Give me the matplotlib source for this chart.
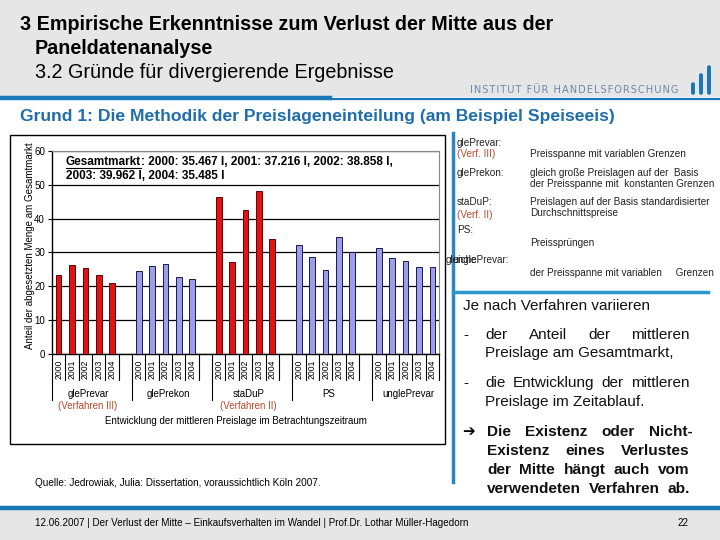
"""Slide: Gruende fuer divergierende Ergebnisse - Preislagen nach Verfahren."""

import matplotlib
matplotlib.use("Agg")
import matplotlib.pyplot as plt
from matplotlib.patches import Rectangle, FancyBboxPatch
from matplotlib.lines import Line2D

# ---- data -------------------------------------------------------------
years = ["2000", "2001", "2002", "2003", "2004"]
methods = ["glePrevar", "glePrekon", "staDuP", "PS", "unglePrevar"]
method_notes = ["(Verfahren III)", "", "(Verfahren II)", "", ""]
glePrevar = [23.4, 26.2, 25.3, 23.4, 20.9]
glePrekon = [24.5, 25.9, 26.5, 22.7, 22.1]
staDuP = [46.3, 27.1, 42.6, 48.2, 34.1]
PS = [32.1, 28.8, 24.7, 34.7, 30.0]
unglePrevar = [31.2, 28.5, 27.4, 25.7, 25.7]
series = [glePrevar, glePrekon, staDuP, PS, unglePrevar]
y_ticks = [0, 10, 20, 30, 40, 50, 60]

gesamtmarkt = ["2000: 35.467 l, 2001: 37.216 l, 2002: 38.858 l,",
               "2003: 39.962 l, 2004: 35.485 l"]

RED = "#E01414"
BLUE = "#9C9CF0"
series_colors = [RED, BLUE, RED, BLUE, BLUE]
NOTE_RED = "#B8482C"
SLIDE_BLUE = "#1B78B8"

plt.rcParams["font.family"] = ["Liberation Sans", "DejaVu Sans"]

W, H = 720, 540
fig = plt.figure(figsize=(W / 100, H / 100), dpi=100)


def fx(x):
    return x / W


def fy(y):
    return 1 - y / H


def ftext(x, y, s, **kw):
    kw.setdefault("va", "center")
    return fig.text(fx(x), fy(y), s, **kw)


def rect(x0, y0, x1, y1, **kw):
    kw.setdefault("zorder", -2)
    fig.add_artist(Rectangle((fx(x0), fy(y1)), fx(x1) - fx(x0), fy(y0) - fy(y1),
                             transform=fig.transFigure, **kw))


def hline(x0, x1, y, **kw):
    fig.add_artist(Line2D([fx(x0), fx(x1)], [fy(y), fy(y)], transform=fig.transFigure, **kw))


def vline(x, y0, y1, **kw):
    fig.add_artist(Line2D([fx(x), fx(x)], [fy(y0), fy(y1)], transform=fig.transFigure, **kw))


renderer = fig.canvas.get_renderer()


def justify(words, x0, x1, y, **kw):
    texts = [ftext(x0, y, w, **kw) for w in words]
    widths = [t.get_window_extent(renderer).width for t in texts]
    gap = (x1 - x0 - sum(widths)) / (len(words) - 1)
    x = x0
    for t, w in zip(texts, widths):
        t.set_x(fx(x))
        x += w + gap


# ---- slide background ------------------------------------------------
rect(0, 0, 720, 97, facecolor="#E6E6E6", edgecolor="none")
rect(0, 510, 720, 540, facecolor="#E6E6E6", edgecolor="none")
hline(0, 330, 97.5, color=SLIDE_BLUE, lw=3.2)
hline(330, 720, 99, color=SLIDE_BLUE, lw=1.6)
hline(0, 720, 508, color=SLIDE_BLUE, lw=3.2)

ftext(20, 24, "3 Empirische Erkenntnisse zum Verlust der Mitte aus der",
      fontsize=14.2, fontweight="bold")
ftext(35, 48, "Paneldatenanalyse", fontsize=14.2, fontweight="bold")
ftext(35, 72, "3.2 Gründe für divergierende Ergebnisse", fontsize=14.2)
ftext(470, 90, "\u200a".join("INSTITUT FÜR HANDELSFORSCHUNG"),
      fontsize=7.1, color="#6A88AA", family=["DejaVu Sans"])
# logo bars
for bx, top in [(691, 82), (699, 73), (707, 65)]:
    fig.add_artist(FancyBboxPatch((fx(bx), fy(95)), fx(4), fy(top) - fy(95),
                                  boxstyle="round,pad=0,rounding_size=0.004",
                                  transform=fig.transFigure, facecolor=SLIDE_BLUE,
                                  edgecolor="none", zorder=-1))

ftext(20, 117, "Grund 1: Die Methodik der Preislageneinteilung (am Beispiel Speiseeis)",
      fontsize=12.6, fontweight="bold", color="#1F6DAA")

# ---- chart box ---------------------------------------------------------
rect(10, 135, 445, 444, facecolor="white", edgecolor="black", lw=1)

ax = fig.add_axes([fx(52), fy(354.3), fx(439) - fx(52), fy(150.7) - fy(354.3)])
ax.patch.set_alpha(0)
for g, vals in enumerate(series):
    pos = [g * 6 + j for j in range(len(years))]
    ax.bar(pos, vals, width=0.42, color=series_colors[g],
           edgecolor="#1A1A40" if series_colors[g] == BLUE else "#600000", lw=0.7, zorder=3)

ax.set_xlim(-0.5, 28.5)
ax.set_ylim(0, 60)
ax.set_yticks(y_ticks)
ax.tick_params(axis="y", labelsize=7, length=3, width=0.8, pad=2)
ax.yaxis.grid(True, color="black", lw=0.9, zorder=1)
ax.set_axisbelow(True)
ax.set_xticks([g * 6 + j for g in range(5) for j in range(5)])
ax.set_xticklabels(years * 5, rotation=90, fontsize=6.2, va="top")
ax.tick_params(axis="x", length=0, pad=4)
for side in ("top", "right"):
    ax.spines[side].set_color("#888888")
for side in ("left", "bottom"):
    ax.spines[side].set_linewidth(1)

tr = ax.get_xaxis_transform()
for g in range(5):
    for k in range(1, 6):
        ax.plot([g * 6 - 0.5 + k] * 2, [0, -0.128], transform=tr, color="black", lw=0.8, clip_on=False)
    ax.plot([g * 6 - 0.5] * 2, [0, -0.225], transform=tr, color="black", lw=0.8, clip_on=False)
    ax.text(g * 6 + 2.2, -0.196, methods[g], transform=tr, ha="center", va="center", fontsize=7)
    if method_notes[g]:
        ax.text(g * 6 + 2.2, -0.255, method_notes[g], transform=tr, ha="center", va="center",
                fontsize=7, color=NOTE_RED)

ftext(30, 246, "Anteil der abgesetzten Menge am Gesamtmarkt", rotation=90, ha="center", fontsize=7)
ftext(236, 421, "Entwicklung der mittleren Preislage im Betrachtungszeitraum", ha="center", fontsize=7)

t1 = ftext(66, 162, "Gesamtmarkt", fontsize=8.5, fontweight="bold")
bb = t1.get_window_extent(renderer)
hline(66, 66 + bb.width, 168, color="black", lw=0.8)
ftext(66 + bb.width, 162, ": " + gesamtmarkt[0], fontsize=8.5, fontweight="bold")
ftext(66, 176, gesamtmarkt[1], fontsize=8.5, fontweight="bold")

ftext(35, 483, "Quelle: Jedrowiak, Julia: Dissertation, voraussichtlich Köln 2007.", fontsize=7.2)

# ---- right panel ------------------------------------------------------
vline(453, 133, 482, color="#2A86C4", lw=2.5)
hline(453, 708, 292, color="#2A96CC", lw=2.5)

small = dict(fontsize=7.2, color="#222222")
ftext(457, 143, "glePrevar:", **small)
ftext(457, 154, "(Verf. III)", fontsize=7.2, color=NOTE_RED)
ftext(530, 154, "Preisspanne mit variablen Grenzen", **small)
ftext(457, 173, "glePrekon:", **small)
ftext(530, 173, "gleich große Preislagen auf der  Basis", **small)
ftext(530, 184, "der Preisspanne mit  konstanten Grenzen", **small)
ftext(457, 202, "staDuP:", **small)
ftext(530, 202, "Preislagen auf der Basis standardisierter", **small)
ftext(457, 215, "(Verf. II)", fontsize=7.2, color=NOTE_RED)
ftext(530, 213, "Durchschnittspreise", **small)
ftext(457, 230, "PS:", **small)
ftext(530, 243, "Preissprüngen", **small)
ftext(446, 260, "gleiche", **small)
ftext(452, 260, "unglePrevar:", **small)
ftext(530, 273, "der Preisspanne mit variablen     Grenzen", **small)

body = dict(fontsize=11, color="#111111")
ftext(463, 306, "Je nach Verfahren variieren", **body)
ftext(463, 335, "-", **body)
justify(["der", "Anteil", "der", "mittleren"], 485, 690, 335, **body)
ftext(485, 353, "Preislage am Gesamtmarkt,", **body)
ftext(463, 383, "-", **body)
justify(["die", "Entwicklung", "der", "mittleren"], 485, 690, 383, **body)
ftext(485, 402, "Preislage im Zeitablauf.", **body)

bold = dict(fontsize=11.1, fontweight="bold", color="#111111")
ftext(462, 432, "\u2794", fontsize=11, family=["DejaVu Sans"], fontweight="bold")
justify(["Die", "Existenz", "oder", "Nicht-"], 487, 693, 432, **bold)
justify(["Existenz", "eines", "Verlustes"], 487, 690, 451, **bold)
justify(["der", "Mitte", "hängt", "auch", "vom"], 487, 690, 470, **bold)
justify(["verwendeten", "Verfahren", "ab."], 487, 690, 489, **bold)

# ---- footer -----------------------------------------------------------
ftext(35, 523, "12.06.2007 | Der Verlust der Mitte \u2013 Einkaufsverhalten im Wandel | "
      "Prof.Dr. Lothar Müller-Hagedorn", fontsize=7.1)
ftext(678, 523, "22", fontsize=7.1)

fig.savefig("out.png", dpi=100)
